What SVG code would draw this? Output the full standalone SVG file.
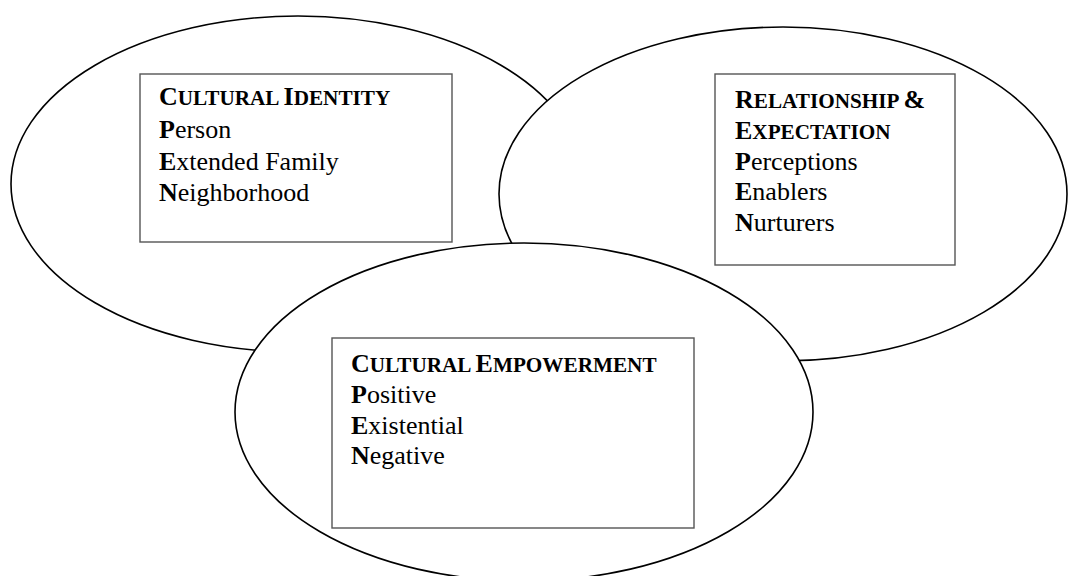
<svg xmlns="http://www.w3.org/2000/svg" width="1068" height="576" viewBox="0 0 1068 576" font-family="'Liberation Serif', Tinos, 'DejaVu Serif', serif">
  <style>
    .oval { fill: #fff; stroke: #000; stroke-width: 1.6; }
    .box { fill: #fff; stroke: #555; stroke-width: 1.4; }
    .t { font-family: "Liberation Serif", Tinos, "DejaVu Serif", serif; font-size: 26px; font-weight: normal; fill: #000; }
    .b { font-weight: bold; }
    .sc { font-weight: bold; font-size: 21.2px; }
  </style>
  <rect width="1068" height="576" fill="#fff"/>

  <g id="identity">
    <ellipse class="oval" cx="298" cy="184" rx="287" ry="168"/>
  </g>
  <g id="relationship">
    <ellipse class="oval" cx="783" cy="194" rx="284" ry="167"/>
  </g>
  <g id="empowerment">
    <ellipse class="oval" cx="524" cy="412" rx="289" ry="169"/>
  </g>

  <g id="identity-box">
    <rect class="box" x="140" y="74" width="312" height="168"/>
    <text class="t" x="159" y="105"><tspan class="b">C</tspan><tspan class="sc">ULTURAL </tspan><tspan class="b">I</tspan><tspan class="sc">DENTITY</tspan></text>
    <text class="t" x="159" y="138"><tspan class="b">P</tspan>erson</text>
    <text class="t" x="159" y="170"><tspan class="b">E</tspan>xtended Family</text>
    <text class="t" x="159" y="201"><tspan class="b">N</tspan>eighborhood</text>
  </g>

  <g id="relationship-box">
    <rect class="box" x="715" y="74" width="240" height="191"/>
    <text class="t" x="735" y="108"><tspan class="b">R</tspan><tspan class="sc">ELATIONSHIP </tspan><tspan class="b">&amp;</tspan></text>
    <text class="t" x="735" y="139"><tspan class="b">E</tspan><tspan class="sc">XPECTATION</tspan></text>
    <text class="t" x="735" y="170"><tspan class="b">P</tspan>erceptions</text>
    <text class="t" x="735" y="200"><tspan class="b">E</tspan>nablers</text>
    <text class="t" x="735" y="231"><tspan class="b">N</tspan>urturers</text>
  </g>

  <g id="empowerment-box">
    <rect class="box" x="332" y="338" width="362" height="190"/>
    <text class="t" x="351" y="372"><tspan class="b">C</tspan><tspan class="sc">ULTURAL </tspan><tspan class="b">E</tspan><tspan class="sc">MPOWERMENT</tspan></text>
    <text class="t" x="351" y="403"><tspan class="b">P</tspan>ositive</text>
    <text class="t" x="351" y="434"><tspan class="b">E</tspan>xistential</text>
    <text class="t" x="351" y="464"><tspan class="b">N</tspan>egative</text>
  </g>

  <g id="connectors"/>
</svg>
